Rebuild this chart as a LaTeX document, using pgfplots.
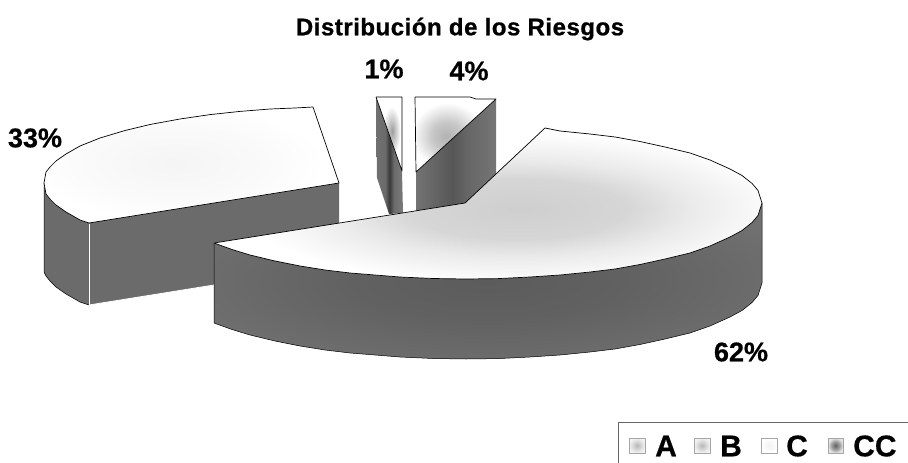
\documentclass[border=0pt]{standalone}
\usepackage{fontspec}
\setmainfont{Liberation Sans}[BoldFeatures={FakeBold=0.5}]
\newfontfamily\titlefont{Liberation Sans}[BoldFeatures={FakeBold=0.9,LetterSpace=2.2}]
\usepackage{pgfplots}
\pgfplotsset{compat=1.18}
\pgfdeclareradialshading{bigtop}{\pgfpoint{3bp}{-2bp}}{color(0bp)=(black!19);color(10bp)=(black!16);color(16bp)=(black!8);color(25bp)=(white);color(100bp)=(white)}
\pgfdeclareradialshading{leftop}{\pgfpoint{-3bp}{1bp}}{color(0bp)=(black!4);color(15bp)=(black!2);color(25bp)=(white);color(100bp)=(white)}
\pgfdeclareradialshading{fourtop}{\pgfpoint{-6bp}{-1bp}}{color(0bp)=(black!30);color(9bp)=(black!22);color(22bp)=(white);color(100bp)=(white)}
\pgfdeclareradialshading{onetop}{\pgfpoint{6bp}{2bp}}{color(0bp)=(black!38);color(8bp)=(black!20);color(17bp)=(white);color(100bp)=(white)}
\pgfdeclareradialshading{bigside}{\pgfpoint{0bp}{0bp}}{color(0bp)=(black!64);color(12bp)=(black!62);color(30bp)=(black!56);color(100bp)=(black!56)}
\pgfdeclareradialshading{swA}{\pgfpoint{0bp}{0bp}}{color(0bp)=(black!28);color(15bp)=(black!14);color(25bp)=(black!5);color(100bp)=(black!5)}
\pgfdeclareradialshading{swC}{\pgfpoint{0bp}{0bp}}{color(0bp)=(black!5);color(25bp)=(white);color(100bp)=(white)}
\pgfdeclareradialshading{swD}{\pgfpoint{0bp}{0bp}}{color(0bp)=(black!62);color(15bp)=(black!35);color(25bp)=(black!10);color(100bp)=(black!10)}
\pgfdeclarehorizontalshading{oneside}{100bp}{color(0bp)=(black!56);color(25bp)=(black!56);color(42bp)=(black!58);color(50bp)=(black!78);color(58bp)=(black!58);color(75bp)=(black!52);color(100bp)=(black!52)}
\pgfdeclarehorizontalshading{fourside}{100bp}{color(0bp)=(black!55);color(25bp)=(black!55);color(48bp)=(black!66);color(57bp)=(black!60);color(75bp)=(black!54);color(100bp)=(black!54)}
\pgfdeclarehorizontalshading{leftside}{100bp}{color(0bp)=(black!58);color(100bp)=(black!58)}
\begin{document}
\begin{tikzpicture}
\begin{axis}[
  scale only axis, width=908pt, height=463pt,
  xmin=0, xmax=908, ymin=0, ymax=463, y dir=reverse,
  axis lines=none, clip=false, no markers,
  every axis plot/.append style={line width=0.7pt, line join=round}
]
% 33% slice: sides
\addplot[draw=none, shade, shading=leftside] coordinates {(44,183) (46,194) (50,199) (56,205) (66,212) (80,220) (89,223) (339,183) (339,265) (89,305) (80,302) (66,294) (56,287) (50,281) (46,276) (44,272) (44,183)};
\addplot[draw=black, line width=0.5pt] coordinates {(44,183) (44,272) (46,276) (50,281) (56,287) (66,294) (80,302) (89,305)};
\addplot[draw=white, line width=1pt] coordinates {(89,224) (89,305)};
\addplot[draw=white, line width=0.8pt] coordinates {(89,305) (214,285)};
% 33% slice: top
\addplot[draw=black, shade, shading=leftop] coordinates {(44,183) (46,172) (50,167) (56,161) (66,154) (80,146) (100,138) (125,130.5) (150,124.5) (180,119) (210,114.6) (240,111.4) (270,109) (295,108) (313,107) (339,183) (89,223) (80,220) (66,212) (56,205) (50,199) (46,194) (44,183)};
% 1% slice
\addplot[draw=none, shade, shading=oneside] coordinates {(376,97) (402,171) (403,213) (389,214) (377,178) (376,97)};
\addplot[draw=black, shade, shading=onetop] coordinates {(376,97) (402,97) (402,171) (376,97)};
% 4% slice
\addplot[draw=none, shade, shading=fourside] coordinates {(416,172) (496,99) (496,175) (465,204) (416,211) (416,172)};
\addplot[draw=black, shade, shading=fourtop] coordinates {(415,97) (470,97) (476,99) (496,99) (416,172) (415,97)};
% 62% slice: side
\addplot[draw=none, shade, shading=bigside] coordinates {(214,243) (232,249.5) (250,255) (275,261) (300,266) (325,270) (350,273) (375,275) (400,277) (433,278.5) (466,279) (498,278.6) (530,277) (560,275) (590,272) (615,269) (640,264.5) (665,259) (690,253) (710,246) (730,237) (742,230.5) (752,222.6) (758,215.5) (762,203) (762,283) (758,295.5) (752,302.6) (742,310.5) (730,317) (710,326) (690,333) (665,339) (640,344.5) (615,349) (590,352) (560,355) (530,357) (498,358.6) (466,359) (433,358.5) (400,357) (375,355) (350,353) (325,350) (300,346) (275,341) (250,335) (232,329.5) (214,323) (214,243)};
\addplot[draw=black, line width=0.5pt] coordinates {(214,243) (214,323) (232,329.5) (250,335) (275,341) (300,346) (325,350) (350,353) (375,355) (400,357) (433,358.5) (466,359) (498,358.6) (530,357) (560,355) (590,352) (615,349) (640,344.5) (665,339) (690,333) (710,326) (730,317) (742,310.5) (752,302.6) (758,295.5) (762,283) (762,203)};
% 62% slice: top
\addplot[draw=black, shade, shading=bigtop] coordinates {(465,203) (545,128) (560,131) (590,134) (615,137) (640,141.5) (665,147) (690,153) (710,160) (730,169) (742,175.5) (752,183.4) (758,190.5) (762,203) (758,215.5) (752,222.6) (742,230.5) (730,237) (710,246) (690,253) (665,259) (640,264.5) (615,269) (590,272) (560,275) (530,277) (498,278.6) (466,279) (433,278.5) (400,277) (375,275) (350,273) (325,270) (300,266) (275,261) (250,255) (232,249.5) (214,243) (465,203)};
% legend
\addplot[draw=black!60, line width=1pt] coordinates {(618,463) (618,422) (908,422)};
\addplot[draw=black!35, line width=0.6pt, shade, shading=swA] coordinates {(629,438) (645,438) (645,453) (629,453) (629,438)};
\addplot[draw=black!35, line width=0.6pt, shade, shading=swA] coordinates {(694,438) (710,438) (710,453) (694,453) (694,438)};
\addplot[draw=black!35, line width=0.6pt, shade, shading=swC] coordinates {(761,438) (777,438) (777,453) (761,453) (761,438)};
\addplot[draw=black!35, line width=0.6pt, shade, shading=swD] coordinates {(828,438) (843,438) (843,453) (828,453) (828,438)};
% texts
\node at (axis cs:460,29) {\fontsize{24}{27}\selectfont\titlefont\bfseries Distribución de los Riesgos};
\node at (axis cs:384,69) {\fontsize{27}{28}\selectfont\bfseries 1\%};
\node at (axis cs:469,71) {\fontsize{27}{28}\selectfont\bfseries 4\%};
\node at (axis cs:35,138) {\fontsize{27}{28}\selectfont\bfseries 33\%};
\node at (axis cs:741,352) {\fontsize{27}{28}\selectfont\bfseries 62\%};
\node[anchor=west, inner sep=0pt] at (axis cs:655,446) {\fontsize{30}{30}\selectfont\bfseries A};
\node[anchor=west, inner sep=0pt] at (axis cs:720,446) {\fontsize{30}{30}\selectfont\bfseries B};
\node[anchor=west, inner sep=0pt] at (axis cs:786,446) {\fontsize{30}{30}\selectfont\bfseries C};
\node[anchor=west, inner sep=0pt] at (axis cs:853,446) {\fontsize{30}{30}\selectfont\bfseries CC};
\end{axis}
\pgfresetboundingbox
\useasboundingbox (0,0) rectangle (908pt,463pt);
\end{tikzpicture}
\end{document}
